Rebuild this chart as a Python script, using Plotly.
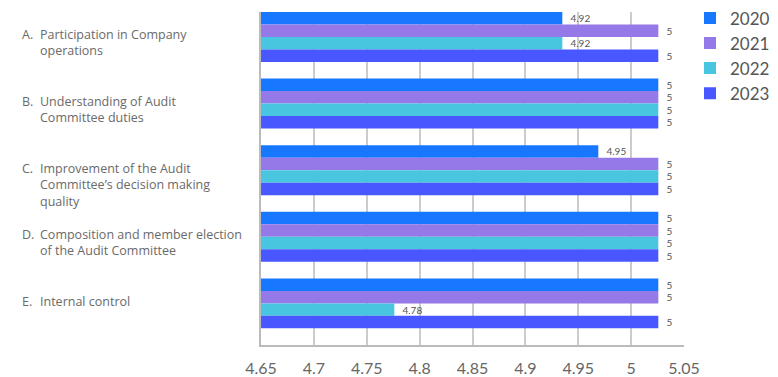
import plotly.graph_objects as go

letters = ["A.", "B.", "C.", "D.", "E."]
categories = [
    "Participation in Company<br>operations",
    "Understanding of Audit<br>Committee duties",
    "Improvement of the Audit<br>Committee\u2019s decision making<br>quality",
    "Composition and member election<br>of the Audit Committee",
    "Internal control",
]
years = ["2020", "2021", "2022", "2023"]
values = {
    "2020": [4.92, 5, 4.95, 5, 5],
    "2021": [5, 5, 5, 5, 5],
    "2022": [4.92, 5, 5, 5, 4.78],
    "2023": [5, 5, 5, 5, 5],
}
colors = {"2020": "#1877FF", "2021": "#9679E8", "2022": "#48C6E0", "2023": "#4857FF"}
tick_vals = [4.65, 4.7, 4.75, 4.8, 4.85, 4.9, 4.95, 5, 5.05]
tick_text = ["4.65", "4.7", "4.75", "4.8", "4.85", "4.9", "4.95", "5", "5.05"]

FONT = "Lato"
LABEL_FONT = "Open Sans"
bar_w = 0.1875
offsets = [-0.5, -0.5 + bar_w, -0.5 + 2 * bar_w, -0.5 + 3 * bar_w]

fig = go.Figure()
# invisible trace that anchors the visible value axis
fig.add_trace(go.Scatter(
    x=[tick_vals[0], tick_vals[-1]], y=[letters[0], letters[0]],
    mode="markers", marker=dict(opacity=0), showlegend=False, hoverinfo="skip",
))
for i, yr in enumerate(years):
    fig.add_trace(go.Bar(
        name=yr,
        y=letters,
        x=values[yr],
        orientation="h",
        width=bar_w,
        offset=offsets[i],
        marker=dict(color=colors[yr], line=dict(width=0)),
        text=["\u00a0\u00a0" + (f"{v:g}") for v in values[yr]],
        textposition="outside",
        textfont=dict(family=FONT, size=10, color="#555555"),
        cliponaxis=False,
        xaxis="x2",
        hoverinfo="x+name",
    ))

annotations = []
for L, c in zip(letters, categories):
    annotations.append(dict(
        xref="paper", yref="y", x=(20 - 261) / 423, y=L,
        text=L, showarrow=False, xanchor="left", yanchor="top", yshift=21,
        font=dict(family=LABEL_FONT, size=12.5, color="#6a6a6a"), align="left",
    ))
    annotations.append(dict(
        xref="paper", yref="y", x=(38 - 261) / 423, y=L,
        text=c, showarrow=False, xanchor="left", yanchor="top", yshift=21,
        font=dict(family=LABEL_FONT, size=12.5, color="#6a6a6a"), align="left",
    ))

fig.update_layout(
    width=778, height=377,
    margin=dict(l=261, r=94, t=12, b=32, autoexpand=False),
    paper_bgcolor="white", plot_bgcolor="white",
    barmode="overlay",
    showlegend=True,
    legend=dict(
        x=1.0142, y=1.035, xanchor="left", yanchor="top",
        font=dict(family=FONT, size=17, color="#555555"),
        bgcolor="rgba(0,0,0,0)", tracegroupgap=0, itemwidth=30,
    ),
    xaxis=dict(
        range=[4.65, 5.05], tickmode="array", tickvals=tick_vals, ticktext=tick_text,
        showgrid=True, gridcolor="#cccccc", gridwidth=1.5,
        showline=True, linecolor="#bbbbbb", linewidth=1.5,
        ticks="", zeroline=False,
        tickfont=dict(family=FONT, size=16, color="#666666"),
        ticklabelstandoff=8,
    ),
    xaxis2=dict(
        overlaying="x", anchor="y", range=[4.6689, 5.0214], visible=False,
    ),
    yaxis=dict(
        type="category", categoryorder="array", categoryarray=letters,
        range=[4.5, -0.5], showticklabels=False, showgrid=False,
        showline=True, linecolor="#bbbbbb", linewidth=1.5, ticks="", zeroline=False,
    ),
    annotations=annotations,
    font=dict(family=FONT),
)

fig.write_html("out.html")
